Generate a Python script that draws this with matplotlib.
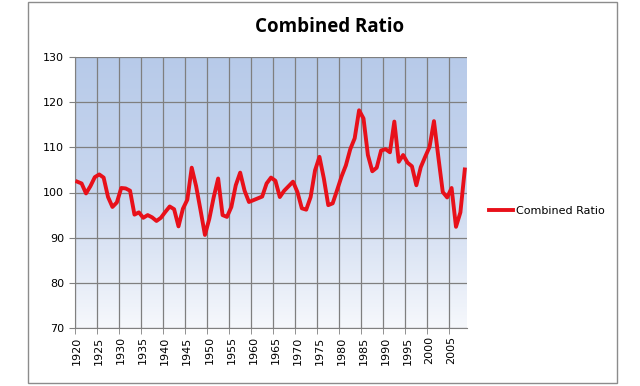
import numpy as np
import matplotlib
matplotlib.use('Agg')
from matplotlib import pyplot as plt
from matplotlib.colors import LinearSegmentedColormap
from matplotlib.patches import Rectangle

# combined ratio by year
years = list(range(1920, 2009))
ratio = [102.4, 102.0, 99.8, 101.4, 103.4, 104.0, 103.3, 99.0, 96.8, 97.8,
         101.0, 100.9, 100.4, 95.1, 95.6, 94.4, 95.0, 94.5, 93.7, 94.4,
         95.7, 96.9, 96.3, 92.5, 96.4, 98.4, 105.5, 101.4, 96.1, 90.6,
         94.2, 99.0, 103.1, 95.0, 94.6, 96.8, 101.6, 104.4, 100.4, 97.9,
         98.3, 98.7, 99.1, 102.0, 103.3, 102.6, 99.0, 100.4, 101.4, 102.4,
         100.1, 96.5, 96.2, 99.0, 104.9, 107.9, 103.1, 97.2, 97.6, 100.5,
         103.5, 106.0, 109.6, 112.0, 118.2, 116.4, 108.3, 104.7, 105.5, 109.3,
         109.6, 108.9, 115.7, 106.8, 108.3, 106.6, 105.8, 101.6, 105.6, 107.9,
         110.1, 115.8, 107.8, 100.1, 98.9, 101.0, 92.4, 95.6, 105.1]
label_years = list(range(1920, 2006, 5))
yticks = [70, 80, 90, 100, 110, 120, 130]

fig = plt.figure(figsize=(6.4, 3.86), dpi=100)
fig.patches.append(Rectangle((28/640, 3/386), 589/640, 381/386, transform=fig.transFigure,
                             fill=False, edgecolor='#8c8c8c', linewidth=1))
ax = fig.add_axes([75/640, 58/386, 392/640, 271/386])

x0, x1 = years[0] - 0.5, years[-1] + 0.5
# blue to white gradient background like excel
cmap = LinearSegmentedColormap.from_list('bg', ['#f6f8fc', '#c9d7ef', '#b7cae9'])
grad = np.linspace(0, 1, 256).reshape(-1, 1)
ax.imshow(grad, cmap=cmap, aspect='auto', extent=[x0, x1, 70, 130], origin='lower', zorder=0)

ax.plot(years, ratio, color='#e8101a', linewidth=2.8, label='Combined Ratio',
        solid_joinstyle='round', zorder=3)

ax.set_xlim(x0, x1)
ax.set_ylim(70, 130)
ax.set_yticks(yticks)
ax.set_xticks(label_years)
ax.set_xticklabels([str(y) for y in label_years], rotation=90)
ax.set_xticks([y - 0.5 for y in range(1920, 2009, 5)], minor=True)
ax.tick_params(axis='x', which='major', length=0, pad=6, labelsize=8, labelcolor='black')
ax.tick_params(axis='x', which='minor', length=4, color='#808080')
ax.tick_params(axis='y', length=4, color='#808080', labelsize=8, pad=4)
ax.grid(True, axis='y', which='major', color='#7f7f7f', linewidth=0.9, zorder=1)
ax.grid(True, axis='x', which='minor', color='#7f7f7f', linewidth=0.9, zorder=1)
for s in ['top', 'right']:
    ax.spines[s].set_visible(False)
for s in ['left', 'bottom']:
    ax.spines[s].set_color('#808080')

fig.text(330/640, 1 - 27/386, 'Combined Ratio', ha='center', va='center',
         fontsize=13.5, fontweight='bold', family='Open Sans')
ax.legend(loc='center left', bbox_to_anchor=(479/640, 1 - 211/386),
          bbox_transform=fig.transFigure, frameon=False, fontsize=8,
          handlelength=2.2, handletextpad=0.2)

plt.savefig('out.png', dpi=100)
